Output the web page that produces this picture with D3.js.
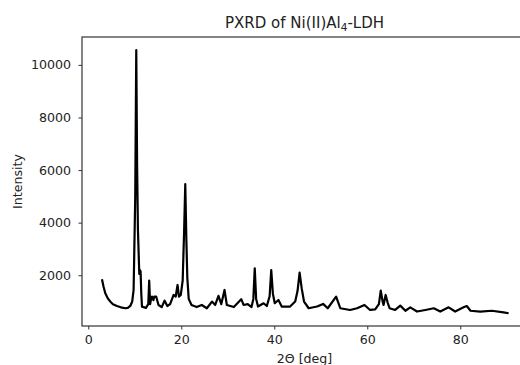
<!DOCTYPE html>
<html>
<head>
<meta charset="utf-8">
<script src="https://cdn.jsdelivr.net/npm/d3@7"></script>
<style>
  body { margin: 0; background: #fff; }
  svg { display: block; font-family: "DejaVu Sans", sans-serif; }
</style>
</head>
<body>
<svg id="chart" width="520" height="365"></svg>
<script>
// diffraction angle 2theta (deg)
var twoTheta = [2.94, 3.3, 3.66, 4.2, 4.73, 5.3, 6.17, 7.0, 7.96, 8.5, 9.03, 9.45, 9.75, 10.1, 10.32, 10.5, 10.68, 10.97, 11.1, 11.25, 11.4, 11.55,
    12.4, 12.9, 13.1, 13.3, 13.45, 13.7, 14.0, 14.2, 14.6, 15.1, 15.8, 16.4, 17.0, 17.6, 18.35, 18.8, 19.2, 19.5, 19.9,
    20.3, 20.6, 20.86, 21.1, 21.3, 21.6, 22.2, 23.3, 24.4, 25.5, 26.6, 27.3, 28.0, 28.6, 29.3, 29.8, 31.3, 32.9, 33.4,
    34.3, 35.1, 35.5, 35.8, 36.1, 36.5, 37.7, 38.4, 39.0, 39.35, 39.7, 40.1, 40.9, 41.6, 43.4, 44.5, 45.0, 45.45, 45.9,
    46.4, 47.4, 49.2, 50.5, 51.5, 53.3, 54.2, 56.3, 57.8, 59.4, 60.6, 61.7, 62.5, 62.9, 63.3, 63.5, 63.95, 64.4, 64.8,
    66.0, 67.1, 68.2, 69.25, 70.7, 72.5, 74.3, 75.7, 77.5, 78.9, 80.7, 81.4, 82.2, 84.3, 86.8, 89.3, 90.4];
// counts
var intensity = [1850, 1550, 1315, 1120, 1000, 900, 833, 780, 745, 760, 833, 1000, 1440, 4990, 10560, 6200, 3720, 2050, 2200, 2150, 1300, 806,
    760, 900, 1800, 900, 1050, 1190, 1050, 1190, 1190, 870, 790, 1035, 830, 900, 1250, 1190, 1630, 1190, 1250,
    1800, 3600, 5470, 3300, 1900, 1100, 870, 790, 870, 745, 1000, 870, 1220, 900, 1440, 870, 790, 1090, 870,
    900, 790, 1100, 2265, 1100, 810, 935, 830, 1200, 2200, 1300, 935, 1060, 810, 810, 1000, 1400, 2100, 1500,
    1000, 745, 810, 910, 745, 1190, 745, 680, 745, 870, 680, 700, 900, 1415, 1000, 870, 1250, 950, 745,
    680, 845, 650, 780, 620, 680, 745, 620, 780, 620, 780, 830, 650, 620, 650, 590, 555];
var xTicks = [0, 20, 40, 60, 80];
var yTicks = [2000, 4000, 6000, 8000, 10000];

var points = twoTheta.map(function(t, i) { return {t: t, v: intensity[i]}; });

// plot area box (right side runs past the window, as in the original)
var box = {x0: 82, y0: 37, x1: 527, y1: 326};
var svg = d3.select("#chart");

var x = d3.scaleLinear().domain([-1.35, 94.35]).range([box.x0, box.x1]);
var y = d3.scaleLinear().domain([70, 11060]).range([box.y1, box.y0]);

//Line
svg.append("path")
    .datum(points)
    .attr("fill", "none")
    .attr("stroke", "#000")
    .attr("stroke-width", 2.2)
    .attr("stroke-linejoin", "round")
    .attr("d", d3.line().x(function(d) { return x(d.t); }).y(function(d) { return y(d.v); }));

//Axes
var xAxis = svg.append("g")
    .attr("transform", "translate(0," + box.y1 + ")")
    .call(d3.axisBottom(x).tickValues(xTicks).tickSize(3.5).tickPadding(6).tickSizeOuter(0));
var yAxis = svg.append("g")
    .attr("transform", "translate(" + box.x0 + ",0)")
    .call(d3.axisLeft(y).tickValues(yTicks).tickFormat(d3.format("d")).tickSize(3.5).tickPadding(7.5).tickSizeOuter(0));

[xAxis, yAxis].forEach(function(a) {
    a.select(".domain").remove();
    a.selectAll("line").attr("stroke", "#333").attr("stroke-width", 1);
    a.selectAll("text").attr("font-family", "DejaVu Sans").attr("font-size", 12.6).attr("fill", "#222");
});

//Frame
svg.append("rect")
    .attr("x", box.x0).attr("y", box.y0)
    .attr("width", box.x1 - box.x0).attr("height", box.y1 - box.y0)
    .attr("fill", "none").attr("stroke", "#333").attr("stroke-width", 1.2);

//Title
var title = svg.append("text")
    .attr("x", (box.x0 + box.x1) / 2).attr("y", 27.5)
    .attr("text-anchor", "middle").attr("font-size", 15).attr("fill", "#222");
title.append("tspan").text("PXRD of Ni(II)Al");
title.append("tspan").attr("font-size", 10.5).attr("dy", 3.5).text("4");
title.append("tspan").attr("dy", -3.5).text("-LDH");

//Axis labels
svg.append("text")
    .attr("x", (box.x0 + box.x1) / 2).attr("y", 362.5)
    .attr("text-anchor", "middle").attr("font-size", 12.6).attr("fill", "#222")
    .text("2Θ [deg]");
svg.append("text")
    .attr("transform", "translate(21.5," + (box.y0 + box.y1) / 2 + ") rotate(-90)")
    .attr("text-anchor", "middle").attr("font-size", 12.6).attr("fill", "#222")
    .text("Intensity");
</script>
</body>
</html>
